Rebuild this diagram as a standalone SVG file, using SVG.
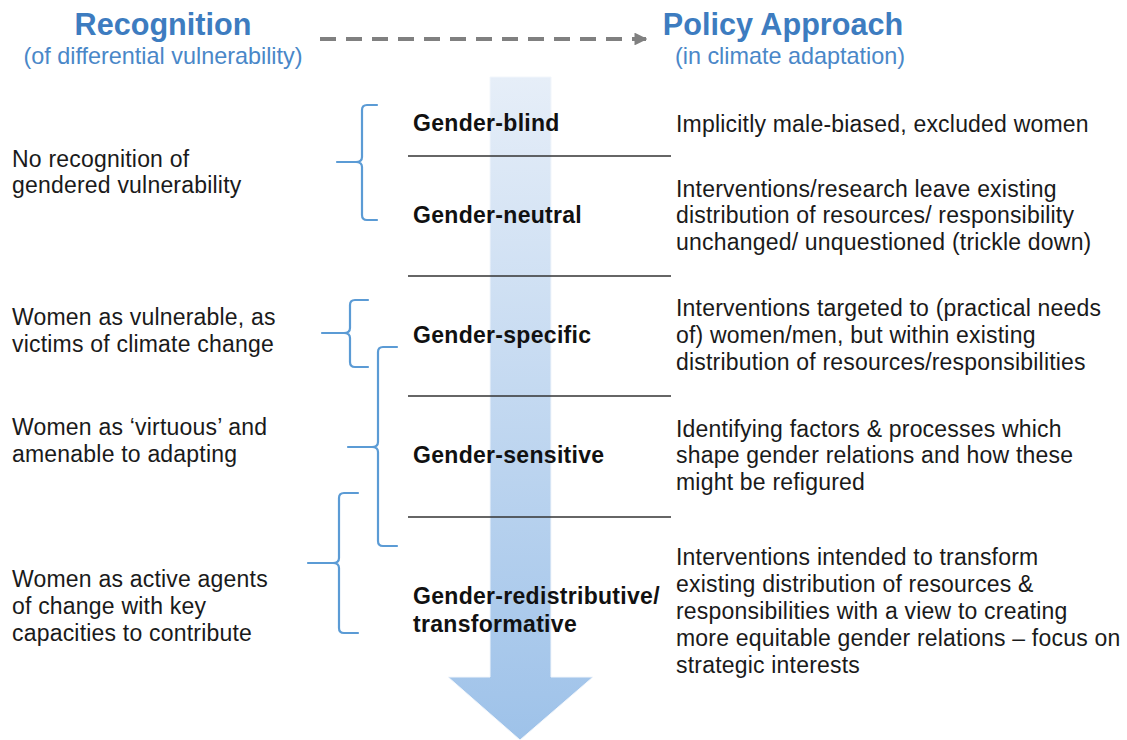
<svg xmlns="http://www.w3.org/2000/svg" width="1127" height="740" viewBox="0 0 1127 740">
<style>
.hd{font-family:"Liberation Sans",Arial,sans-serif;font-weight:bold;font-size:30.6px;fill:#3d7cc0;text-anchor:middle}
.sub{font-family:"Liberation Sans",Arial,sans-serif;font-size:23.4px;fill:#4a87c8;text-anchor:middle}
.t{font-family:"Liberation Sans",Arial,sans-serif;font-size:23px;letter-spacing:0.2px;fill:#1a1a1a}
.b{font-family:"Liberation Sans",Arial,sans-serif;font-size:23px;letter-spacing:0.3px;font-weight:bold;fill:#111}
.br{fill:none;stroke:#5b9bd5;stroke-width:2.2;stroke-linecap:round}
.sep{stroke:#333;stroke-width:1.6}
</style>
<defs>
<linearGradient id="g" x1="0" y1="0" x2="0" y2="1">
<stop offset="0" stop-color="#e6eef8"/>
<stop offset="1" stop-color="#9ec2e9"/>
</linearGradient>
<marker id="ah" viewBox="0 0 10 10" refX="9" refY="5" markerWidth="3.2" markerHeight="3.2" orient="auto" markerUnits="strokeWidth">
<path d="M0,0 L10,5 L0,10 z" fill="#808080"/>
</marker>
</defs>
<rect width="1127" height="740" fill="#fff"/>
<g id="big-arrow">
<path d="M490,77 L551,77 L551,677 L593,677 L520,740 L448,677 L490,677 Z" fill="url(#g)" stroke="#f2f6fb" stroke-width="1"/>
</g>
<g id="header">
<text class="hd" x="163" y="35">Recognition</text>
<text class="sub" x="163" y="64">(of differential vulnerability)</text>
<text class="hd" x="783" y="35">Policy Approach</text>
<text class="sub" x="790" y="64">(in climate adaptation)</text>
</g>
<g id="connectors">
<line x1="320" y1="39" x2="646" y2="39" stroke="#808080" stroke-width="4" stroke-dasharray="16 10" marker-end="url(#ah)"/>
<line class="sep" x1="408" y1="156" x2="671" y2="156"/>
<line class="sep" x1="408" y1="276" x2="671" y2="276"/>
<line class="sep" x1="408" y1="396" x2="671" y2="396"/>
<line class="sep" x1="408" y1="517" x2="671" y2="517"/>
<path class="br" d="M377,105 L367,105 Q362,105 362,110 L362,157 Q362,162 356,162 L337,162 M356,162 Q362,162 362,167 L362,215 Q362,220 367,220 L377,220"/>
<path class="br" d="M368,300 L355,300 Q350,300 350,305 L350,328 Q350,333 344,333 L322,333 M344,333 Q350,333 350,338 L350,362 Q350,367 355,367 L368,367"/>
<path class="br" d="M397,347 L383,347 Q378,347 378,352 L378,442 Q378,447 372,447 L348,447 M372,447 Q378,447 378,452 L378,541 Q378,546 383,546 L397,546"/>
<path class="br" d="M358,493 L344,493 Q339,493 339,498 L339,558 Q339,563 333,563 L308,563 M333,563 Q339,563 339,568 L339,628 Q339,633 344,633 L358,633"/>
</g>
<g id="recognition-1"><text class="t" x="12" y="167">No recognition of</text><text class="t" x="12" y="193">gendered vulnerability</text></g>
<g id="recognition-2"><text class="t" x="12" y="325">Women as vulnerable, as</text><text class="t" x="12" y="352">victims of climate change</text></g>
<g id="recognition-3"><text class="t" x="12" y="435">Women as ‘virtuous’ and</text><text class="t" x="12" y="462">amenable to adapting</text></g>
<g id="recognition-4"><text class="t" x="12" y="587">Women as active agents</text><text class="t" x="12" y="614">of change with key</text><text class="t" x="12" y="641">capacities to contribute</text></g>
<g id="gender-blind"><text class="b" x="413" y="131">Gender-blind</text><text class="t" x="676" y="132">Implicitly male-biased, excluded women</text></g>
<g id="gender-neutral"><text class="b" x="413" y="223">Gender-neutral</text><text class="t" x="676" y="197">Interventions/research leave existing</text><text class="t" x="676" y="223">distribution of resources/ responsibility</text><text class="t" x="676" y="250">unchanged/ unquestioned (trickle down)</text></g>
<g id="gender-specific"><text class="b" x="413" y="343">Gender-specific</text><text class="t" x="676" y="316">Interventions targeted to (practical needs</text><text class="t" x="676" y="343">of) women/men, but within existing</text><text class="t" x="676" y="370">distribution of resources/responsibilities</text></g>
<g id="gender-sensitive"><text class="b" x="413" y="463">Gender-sensitive</text><text class="t" x="676" y="437">Identifying factors &amp; processes which</text><text class="t" x="676" y="463">shape gender relations and how these</text><text class="t" x="676" y="490">might be refigured</text></g>
<g id="gender-redistributive"><text class="b" x="413" y="604">Gender-redistributive/</text><text class="b" x="413" y="632">transformative</text><text class="t" x="676" y="565">Interventions intended to transform</text><text class="t" x="676" y="592">existing distribution of resources &amp;</text><text class="t" x="676" y="619">responsibilities with a view to creating</text><text class="t" x="676" y="646">more equitable gender relations – focus on</text><text class="t" x="676" y="673">strategic interests</text></g>
</svg>
